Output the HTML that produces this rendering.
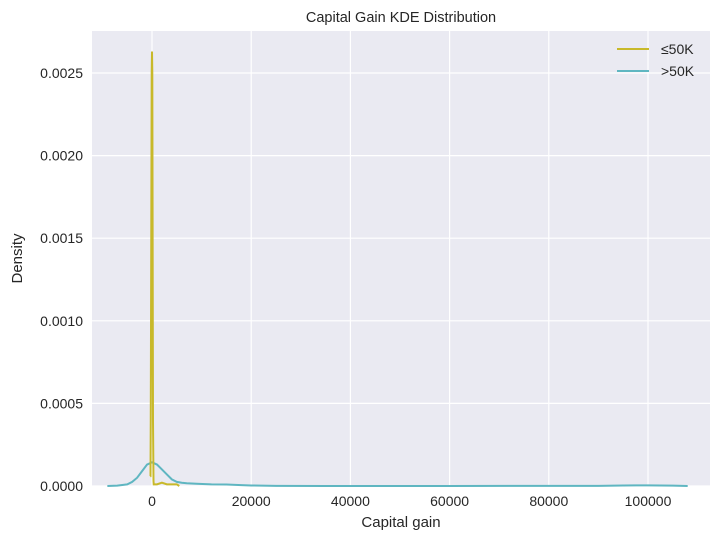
<!DOCTYPE html>
<html><head><meta charset="utf-8"><style>
body{margin:0;background:#fff;}
svg{display:block;font-family:"Liberation Sans","DejaVu Sans",sans-serif;}
</style></head><body>
<svg id="chart" width="720" height="541" viewBox="0 0 720 541">
<rect x="92" y="31" width="618" height="455" fill="#eaeaf2"/>
<g id="grid"></g>
<g id="series"></g>
<g id="ticks"></g>
<text x="401" y="22" text-anchor="middle" font-size="14.5" fill="#262626">Capital Gain KDE Distribution</text>
<text x="401" y="527" text-anchor="middle" font-size="15" fill="#262626">Capital gain</text>
<text transform="translate(22,258.5) rotate(-90)" text-anchor="middle" font-size="15" fill="#262626">Density</text>
<g>
<line x1="617" y1="49" x2="649" y2="49" stroke="#c8b92a" stroke-width="2"/>
<text x="661" y="54" font-size="14" fill="#262626">≤50K</text>
<line x1="617" y1="71" x2="649" y2="71" stroke="#5fb6c1" stroke-width="2"/>
<text x="661" y="76" font-size="14" fill="#262626">&gt;50K</text>
</g>
</svg>
<script>
const xTicks=[0,20000,40000,60000,80000,100000];
const yTicks=[0,0.0005,0.0010,0.0015,0.0020,0.0025];
const yTickLabels=["0.0000","0.0005","0.0010","0.0015","0.0020","0.0025"];
const lowX=[-350,-300,-250,-150,-60,0,60,200,300,350,500,1000,2000,3000,4000,5000,5500];
const lowY=[0.00006,0.00006,0.0004,0.0015,0.0025,0.00263,0.0025,0.0004,0.00003,0.00001,0.00001,0.00001,0.00002,0.00001,0.00001,0.00001,0];
const highX=[-9000,-7000,-5000,-4000,-3000,-2000,-1000,0,1000,2000,3000,4000,5000,6000,7000,9000,12000,15000,18000,20000,25000,35000,60000,90000,95000,100000,105000,108000];
const highY=[0,0.000002,0.00001,0.000025,0.00005,0.00009,0.00013,0.000143,0.00013,0.0001,0.00007,0.00004,0.000025,0.00002,0.000017,0.000014,0.00001,0.000009,0.000005,0.000003,0.000001,0,0,0.000001,0.000003,0.000004,0.000002,0];
const L=92,R=710,T=31,B=486;
const xs=v=>152+v*(496/100000);
const ys=v=>486-v*(413/0.0025);
const NS="http://www.w3.org/2000/svg";
function mk(tag,attrs,parent){const e=document.createElementNS(NS,tag);for(const k in attrs)e.setAttribute(k,attrs[k]);parent.appendChild(e);return e;}
const grid=document.getElementById('grid'),ticks=document.getElementById('ticks'),series=document.getElementById('series');
xTicks.forEach(v=>{
  const g=mk('line',{x1:xs(v),x2:xs(v),y1:T,y2:B,stroke:'#fff','stroke-width':1.2},grid);
  
  
  const t=mk('text',{x:xs(v),y:506,'text-anchor':'middle','font-size':14,fill:'#262626'},ticks);
  t.textContent=v;
  
  
});
yTicks.forEach((v,i)=>{
  const g=mk('line',{x1:L,x2:R,y1:ys(v),y2:ys(v),stroke:'#fff','stroke-width':1.2},grid);
  
  
  const t=mk('text',{x:83,y:ys(v)+5,'text-anchor':'end','font-size':14,fill:'#262626'},ticks);
  t.textContent=yTickLabels[i];
  
  
});
function path(xa,ya){return xa.map((x,i)=>(i?'L':'M')+xs(x).toFixed(2)+','+ys(ya[i]).toFixed(2)).join(' ');}
const p2=mk('path',{d:path(highX,highY),fill:'none',stroke:'#5fb6c1','stroke-width':2},series);


const p1=mk('path',{d:path(lowX,lowY),fill:'none',stroke:'#c8b92a','stroke-width':2},series);


</script>
</body></html>
